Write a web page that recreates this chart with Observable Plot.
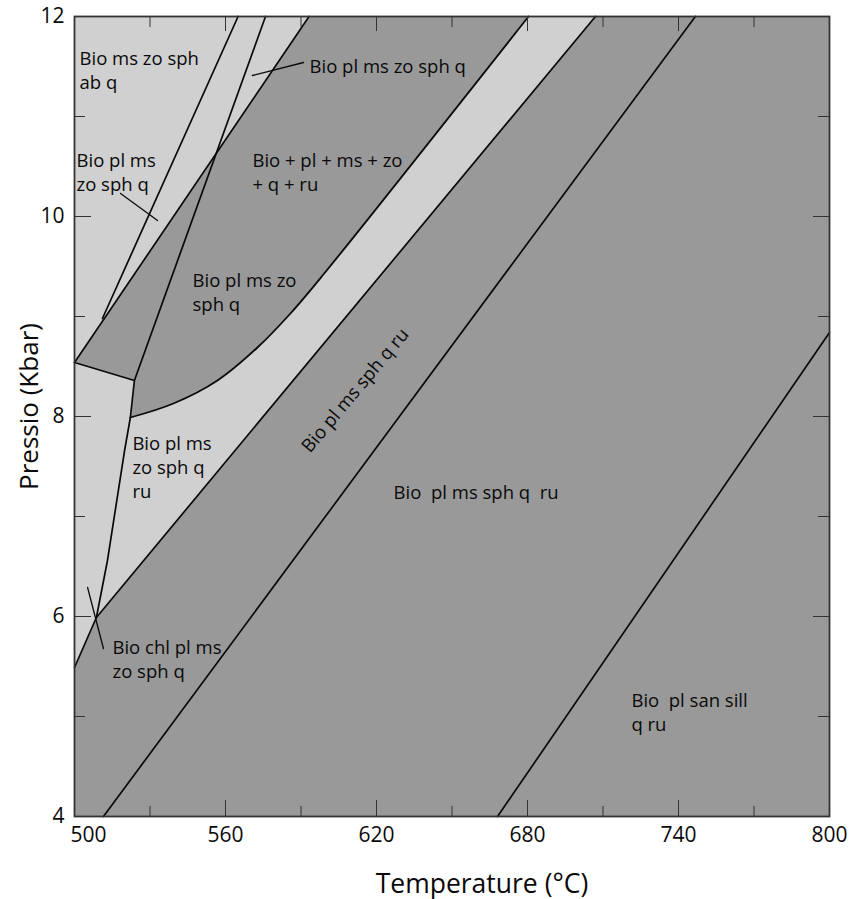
<!DOCTYPE html>
<html>
<head>
<meta charset="utf-8">
<script src="https://cdn.jsdelivr.net/npm/d3@7"></script>
<script src="https://cdn.jsdelivr.net/npm/@observablehq/plot@0.6"></script>
<style>
  html, body { margin: 0; padding: 0; background: #fff; }
  #chart svg { display: block; }
</style>
</head>
<body>
<div id="chart"></div>
<script>
// ---- axis ticks ----
const temperatureTicks = [500, 560, 620, 680, 740, 800];
const temperatureMinorTicks = [530, 590, 650, 710, 770];
const pressureTicks = [4, 6, 8, 10, 12];
const pressureMinorTicks = [5, 7, 9, 11];

// ---- phase boundaries: [T (°C), P (kbar)] ----
const line1 = [[565.0, 12], [511.1, 8.98]];
const line2 = [[575.9, 12], [523.8, 8.36], [522.2, 7.99], [519.9, 7.66], [513.1, 6.56], [508.7, 5.99]];
const line3 = [[593.2, 12], [500, 8.54]];
const shortLine = [[500, 8.54], [523.8, 8.36]];
const curveUpper = [[522.2, 7.99], [539.3, 8.13], [556.8, 8.36], [572.7, 8.69], [585.8, 9.03], [598.9, 9.42], [680.4, 12]];
const lineLower = [[500, 5.49], [508.7, 5.99], [707.0, 12]];
const lineF = [[511.5, 4], [746.7, 12]];
const lineG = [[668.1, 4], [800, 8.84]];

// ---- leader lines ----
const leaderA = [[570.7, 11.41], [591.0, 11.54]];
const leaderB = [[518.3, 10.23], [533.0, 9.96]];
const leaderC = [[505.2, 6.29], [511.5, 5.68]];

// ---- field labels ----
const labelText = [
  "Bio ms zo sph\nab q",
  "Bio pl ms\nzo sph q",
  "Bio pl ms zo sph q",
  "Bio + pl + ms + zo\n+ q + ru",
  "Bio pl ms zo\nsph q",
  "Bio pl ms\nzo sph q\nru",
  "Bio chl pl ms\nzo sph q",
  "Bio  pl ms sph q  ru",
  "Bio  pl san sill\nq ru"
];
const labelT = [502.0, 500.8, 593.4, 570.7, 546.9, 523.0, 515.1, 626.8, 721.3];
const labelP = [11.69, 10.67, 11.61, 10.67, 9.47, 7.84, 5.80, 7.35, 5.27];

const rotatedLabel = ["Bio pl ms sph q ru"];
const rotatedT = [611.6];
const rotatedP = [8.26];

// ---- build tables ----
const lightTop = [[500, 12], line3[0], line3[1]];
const lightBand = [...shortLine, ...curveUpper, ...lineLower.slice().reverse()];

const straightLines = [line1, line2, line3, shortLine, lineLower, lineF, lineG]
  .flatMap((pts, i) => pts.map(([T, P]) => ({T, P, id: "b" + i})));
const curvedLine = curveUpper.map(([T, P]) => ({T, P}));
const leaders = [leaderA, leaderB, leaderC]
  .flatMap((pts, i) => pts.map(([T, P]) => ({T, P, id: "l" + i})));
const labels = labelText.map((text, i) => ({text, T: labelT[i], P: labelP[i]}));
const rotated = rotatedLabel.map((text, i) => ({text, T: rotatedT[i], P: rotatedP[i]}));

const FONT = "'Open Sans', 'Noto Sans', sans-serif";
const LIGHT = "#d0d0d0";
const DARK = "#999999";
const INK = "#0a0a0a";

const chart = Plot.plot({
  width: 854,
  height: 899,
  marginLeft: 74,
  marginRight: 25,
  marginTop: 16,
  marginBottom: 83,
  style: {fontFamily: FONT, color: INK, background: "#fff", overflow: "visible"},
  x: {domain: [500, 800]},
  y: {domain: [4, 12]},
  marks: [
    Plot.frame({fill: DARK, stroke: null}),
    Plot.line(lightTop, {x: d => d[0], y: d => d[1], fill: LIGHT, stroke: "none"}),
    Plot.line(lightBand, {x: d => d[0], y: d => d[1], fill: LIGHT, stroke: "none"}),
    Plot.line(straightLines, {x: "T", y: "P", z: "id", stroke: INK, strokeWidth: 1.7}),
    Plot.line(curvedLine, {x: "T", y: "P", stroke: INK, strokeWidth: 1.8, curve: "catmull-rom"}),
    Plot.line(leaders, {x: "T", y: "P", z: "id", stroke: INK, strokeWidth: 1.3}),
    Plot.text(labels, {x: "T", y: "P", text: "text", textAnchor: "start", lineAnchor: "top", lineHeight: 1.3, fontSize: 18.5, fill: INK}),
    Plot.text(rotated, {x: "T", y: "P", text: "text", rotate: -50, textAnchor: "middle", lineAnchor: "middle", fontSize: 18.5, fill: INK}),
    // inward ticks
    Plot.axisX(temperatureTicks, {anchor: "bottom", tickSize: -16, tickFormat: () => "", label: null, stroke: "#333"}),
    Plot.axisX(temperatureMinorTicks, {anchor: "bottom", tickSize: -10, tickFormat: () => "", label: null, stroke: "#333"}),
    Plot.axisX(temperatureTicks, {anchor: "top", tickSize: -14, tickFormat: () => "", label: null, stroke: "#333"}),
    Plot.axisX(temperatureMinorTicks, {anchor: "top", tickSize: -10, tickFormat: () => "", label: null, stroke: "#333"}),
    Plot.axisY(pressureTicks, {anchor: "left", tickSize: -17, tickFormat: () => "", label: null, stroke: "#333"}),
    Plot.axisY(pressureMinorTicks, {anchor: "left", tickSize: -11, tickFormat: () => "", label: null, stroke: "#333"}),
    Plot.axisY(pressureTicks, {anchor: "right", tickSize: -17, tickFormat: () => "", label: null, stroke: "#333"}),
    Plot.axisY(pressureMinorTicks, {anchor: "right", tickSize: -12, tickFormat: () => "", label: null, stroke: "#333"}),
    // tick labels
    Plot.axisX(temperatureTicks.slice(1), {anchor: "bottom", tickSize: 0, tickPadding: 11, fontSize: 21, label: null, tickFormat: d => String(d)}),
    Plot.axisX(temperatureTicks.slice(0, 1), {anchor: "bottom", tickSize: 0, tickPadding: 11, fontSize: 21, label: null, dx: 14, tickFormat: d => String(d)}),
    Plot.axisY(pressureTicks, {anchor: "left", tickSize: 0, tickPadding: 10, fontSize: 21, label: null, tickFormat: d => String(d)}),
    // frame
    Plot.frame({stroke: "#333", strokeWidth: 1.8}),
    // axis titles
    Plot.text(["Temperature (°C)"], {frameAnchor: "bottom", text: d => d, dy: 76, dx: 30, textAnchor: "middle", lineAnchor: "bottom", fontSize: 26.5, fill: INK}),
    Plot.text(["Pressio (Kbar)"], {frameAnchor: "left", text: d => d, rotate: -90, dx: -37, dy: -10, textAnchor: "middle", lineAnchor: "bottom", fontSize: 26, fill: INK})
  ]
});

document.getElementById("chart").appendChild(chart);
</script>
</body>
</html>
